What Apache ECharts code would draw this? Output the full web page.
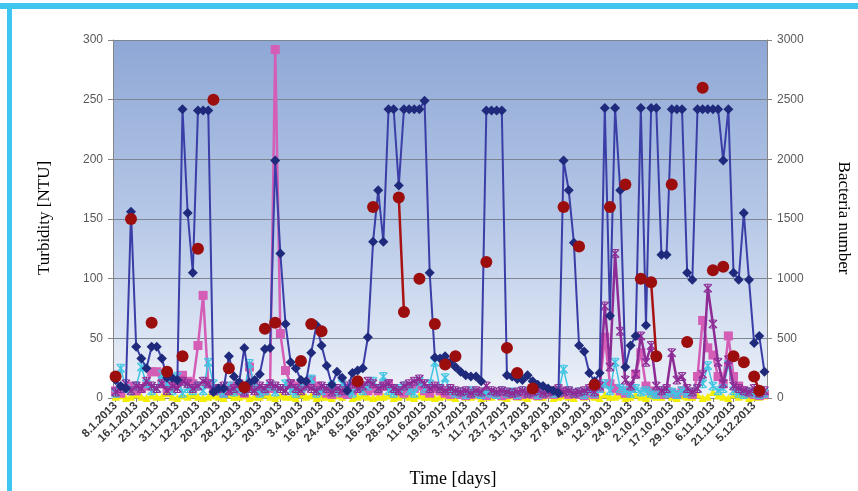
<!DOCTYPE html>
<html><head><meta charset="utf-8">
<script src="https://cdn.jsdelivr.net/npm/echarts@6/dist/echarts.min.js"></script>
<style>html,body{margin:0;padding:0;background:#fff}#c{width:858px;height:491px}</style>
</head><body><div id="c"></div>
<script>
var tickLabels = ['8.1.2013','16.1.2013','23.1.2013','31.1.2013','12.2.2013','20.2.2013','28.2.2013','12.3.2013','20.3.2013','3.4.2013','16.4.2013','24.4.2013','8.5.2013','16.5.2013','28.5.2013','11.6.2013','19.6.2013','3.7.2013','11.7.2013','23.7.2013','31.7.2013','13.8.2013','27.8.2013','4.9.2013','12.9.2013','24.9.2013','2.10.2013','17.10.2013','29.10.2013','6.11.2013','21.11.2013','5.12.2013'];
var leftTicks = [0,50,100,150,200,250,300];
var rightTicks = [0,500,1000,1500,2000,2500,3000];

var blueTurbidity = [15,10,8,156,43,33,25,43,43,33,17,17,15,242,155,105,241,241,241,5,
8,8,35,18,13,42,13,15,20,41,42,199,121,62,30,25,15,14,38,61,
44,27,11,22,17,6,21,23,25,51,131,174,131,242,242,178,242,242,242,242,
249,105,34,33,35,30,26,22,19,18,18,14,241,241,241,241,19,18,16,15,
19,14,11,10,8,6,4,199,174,130,44,39,21,14,21,243,69,243,174,26,
44,52,243,61,243,243,120,120,242,242,242,105,99,242,242,242,242,242,199,242,
105,99,155,99,46,52,22];

var redValues = [18,null,null,150,null,null,null,63,null,null,22,null,null,35,null,null,125,null,null,250,
null,null,25,null,null,9,null,null,null,58,null,63,null,null,null,null,31,null,62,null,
56,null,null,null,null,null,null,14,null,null,160,null,null,null,null,168,72,null,null,100,
null,null,62,null,28,null,35,null,null,null,null,null,114,null,null,null,42,null,21,null,
null,8,null,null,null,null,null,160,null,null,127,null,null,11,null,null,160,null,null,179,
null,null,100,null,97,35,null,null,179,null,null,47,null,null,260,null,107,null,110,null,
35,null,30,null,18,6,null];

var pinkValues = [6,4,8,10,6,8,10,22,22,12,8,10,12,19,14,12,44,86,12,8,
6,4,7,10,6,4,26,8,5,6,8,292,54,23,12,10,8,12,15,10,
6,4,3,6,4,3,6,8,10,6,8,6,10,12,8,6,4,6,8,10,
6,4,8,6,4,3,4,3,2,3,4,3,2,4,3,2,3,4,2,3,
4,3,2,3,4,3,4,6,3,4,3,2,4,3,8,51,12,8,6,4,
8,20,38,10,6,4,3,6,4,3,6,4,3,18,65,42,36,18,12,52,
18,10,6,4,3,2,3];

var purpleValues = [5,8,12,6,10,8,14,10,8,12,6,10,8,14,12,8,10,14,12,6,
8,10,6,8,12,5,8,6,10,8,12,10,8,6,12,8,6,10,8,6,
10,8,5,8,6,10,12,8,10,14,12,8,10,12,8,6,10,12,14,16,
12,8,10,8,6,8,6,5,6,4,6,5,10,6,5,6,5,4,5,6,
4,5,6,4,5,6,8,5,6,4,5,6,8,5,10,77,26,121,56,15,
10,20,52,30,44,10,6,8,38,15,18,8,5,8,20,92,62,30,12,32,
10,8,6,5,8,4,6];

var cyanValues = [4,25,8,6,10,26,12,6,8,20,12,6,18,4,8,6,10,6,30,12,
6,4,10,5,8,6,29,8,4,6,10,5,8,12,6,4,8,10,16,4,
6,8,10,5,12,6,4,8,6,10,14,8,18,6,4,8,10,6,4,14,
8,12,30,8,17,6,4,5,3,6,4,3,5,4,3,6,4,5,3,6,
4,5,3,4,6,4,5,24,6,4,5,3,6,4,8,12,6,30,8,6,
4,8,5,6,4,3,6,4,5,3,6,4,5,8,12,27,10,6,8,28,
6,4,3,5,4,3,4];

var yellowValues = [1,2,0,1,3,1,0,2,1,1,4,1,0,2,1,3,1,0,1,2,
1,0,3,1,1,2,0,1,1,3,1,0,2,1,1,0,3,1,2,0,
1,1,0,2,1,3,0,1,2,1,0,1,1,2,0,1,3,1,0,2,
1,1,0,1,2,1,0,4,1,1,2,0,1,1,3,1,0,2,1,1,
0,2,1,1,3,0,1,2,1,0,5,1,2,1,0,3,1,1,2,0,
1,3,1,0,2,1,1,4,1,0,2,1,1,3,0,1,5,2,1,0,
3,1,2,0,1,1,2];

var categories = [];
for (var i = 0; i < blueTurbidity.length; i++) {
  var k = Math.floor(i / 4);
  categories.push(i % 4 === 0 ? tickLabels[k] : tickLabels[k] + '#' + (i % 4));
}

var starPath = 'path://M4.3,0h1.4v10h-1.4z M0,1.1L1.1,0L10,8.9L8.9,10z M8.9,0L10,1.1L1.1,10L0,8.9z M2,0h6v1.1h-6z M2,8.9h6v1.1h-6z';

var chart = echarts.init(document.getElementById('c'), null, {renderer: 'canvas'});
var axisFont = 'Liberation Sans, Arial, sans-serif';
function mk(name, data, z, symbol, size, color, lineColor, width) {
  return {name: name, type: 'line', data: data, z: z, symbol: symbol, symbolSize: size,
    showAllSymbol: true, connectNulls: false,
    itemStyle: {color: color}, lineStyle: {color: lineColor, width: width}};
}
chart.setOption({
  animation: false,
  backgroundColor: '#ffffff',
  grid: {
    left: 113, right: 91, top: 40, bottom: 93, show: true, borderWidth: 0,
    backgroundColor: {type: 'linear', x: 0, y: 0, x2: 0, y2: 1,
      colorStops: [{offset: 0, color: '#8ea7d5'}, {offset: 0.5, color: '#b6c8e7'}, {offset: 1, color: '#eef2f9'}]}
  },
  xAxis: {
    type: 'category', data: categories, boundaryGap: true,
    axisLine: {show: true, lineStyle: {color: '#7f7f7f', width: 1}},
    axisTick: {show: true, interval: 3, alignWithLabel: true, length: 4, lineStyle: {color: '#7f7f7f'}},
    axisLabel: {interval: 3, rotate: 45, margin: 6, color: '#3a3a3a', fontSize: 11.5, fontWeight: 'bold', fontFamily: axisFont},
    splitLine: {show: false}
  },
  yAxis: [{
    type: 'value', min: leftTicks[0], max: leftTicks[leftTicks.length - 1], interval: 50,
    axisLine: {show: true, lineStyle: {color: '#868686'}},
    axisTick: {show: true, length: 5, lineStyle: {color: '#868686'}},
    axisLabel: {color: '#595959', fontSize: 12, fontFamily: axisFont, margin: 10, formatter: function (v) { return String(v); }},
    splitLine: {show: true, lineStyle: {color: '#7c8592', width: 1}}
  }, {
    type: 'value', min: rightTicks[0], max: rightTicks[rightTicks.length - 1], interval: 500, position: 'right',
    axisLine: {show: true, lineStyle: {color: '#868686'}},
    axisTick: {show: true, length: 5, lineStyle: {color: '#868686'}},
    axisLabel: {color: '#595959', fontSize: 12, fontFamily: axisFont, margin: 10, formatter: function (v) { return String(v); }},
    splitLine: {show: false}
  }],
  series: [
    mk('yellow', yellowValues, 2, 'triangle', 8, '#f4ee00', '#f4ee00', 1.5),
    mk('pink', pinkValues, 3, 'rect', 9, '#d45db6', '#d45db6', 2.5),
    mk('cyan', cyanValues, 4, starPath, 9, '#3fc5e3', '#3fc5e3', 1.5),
    mk('purple', purpleValues, 5, starPath, 9, '#8e2c96', '#8e2c96', 2.5),
    mk('blue', blueTurbidity, 6, 'diamond', 10, '#1f2a7c', '#3a3ea6', 2),
    mk('red', redValues, 7, 'circle', 12, '#9c0e0e', '#a81212', 2.5)
  ],
  graphic: [
    {type: 'rect', shape: {x: 0, y: 3, width: 858, height: 6}, style: {fill: '#3ec6f0'}, z: 100},
    {type: 'rect', shape: {x: 7, y: 3, width: 5, height: 488}, style: {fill: '#3ec6f0'}, z: 100},
    {type: 'text', x: 45, y: 218, rotation: Math.PI / 2, style: {text: 'Turbidity [NTU]', font: '17px "Liberation Serif", "Times New Roman", serif', fill: '#000', textAlign: 'center', textVerticalAlign: 'middle'}, z: 100},
    {type: 'text', x: 843, y: 218, rotation: -Math.PI / 2, style: {text: 'Bacteria number', font: '17px "Liberation Serif", "Times New Roman", serif', fill: '#000', textAlign: 'center', textVerticalAlign: 'middle'}, z: 100},
    {type: 'text', x: 453, y: 479, style: {text: 'Time [days]', font: '18px "Liberation Serif", "Times New Roman", serif', fill: '#000', textAlign: 'center', textVerticalAlign: 'middle'}, z: 100}
  ]
});
</script></body></html>
